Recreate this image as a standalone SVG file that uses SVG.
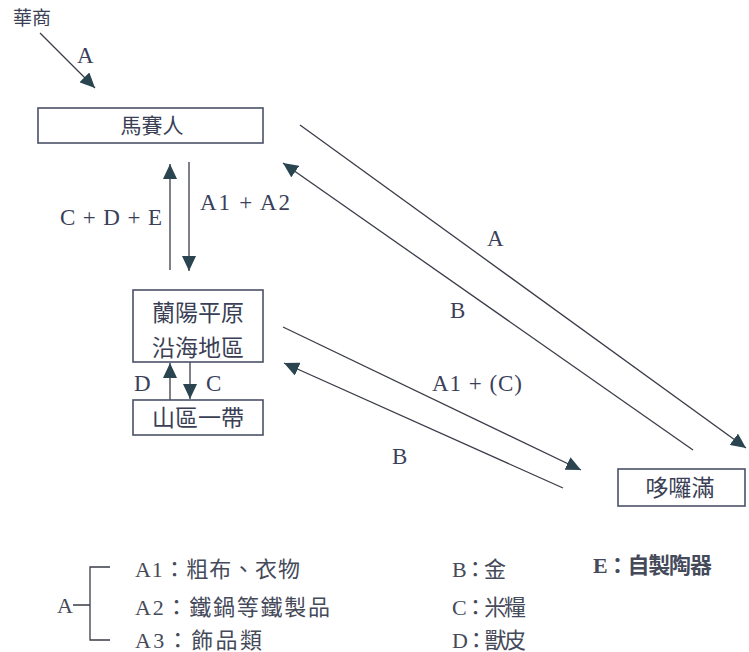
<svg xmlns="http://www.w3.org/2000/svg" width="749" height="652" viewBox="0 0 749 652">
<style>
.box{fill:#fff;stroke:#4a5068;stroke-width:1.6}
.ln{stroke:#3a3d48;stroke-width:1.3;fill:none}
.cjk{font-family:"Noto Sans CJK TC","Noto Sans CJK SC",sans-serif;fill:#3a3f55}
.lat{font-family:"Liberation Serif","Noto Sans CJK TC",serif;fill:#3a3f5a;font-size:23px}
.leg{font-family:"Liberation Serif","Noto Sans CJK TC",serif;fill:#454a5a;font-size:22px}
</style>
<defs>
<marker id="ah" markerUnits="userSpaceOnUse" markerWidth="16" markerHeight="14" refX="15" refY="7" orient="auto">
<path d="M0,0 L15,7 L0,14 z" fill="#2a4550"/>
</marker>
</defs>
<rect width="749" height="652" fill="#fff"/>
<g id="connectors">
<line class="ln" x1="40" y1="33" x2="95" y2="88" marker-end="url(#ah)"/>
<line class="ln" x1="170" y1="270" x2="170" y2="164" marker-end="url(#ah)"/>
<line class="ln" x1="189" y1="162" x2="189" y2="271" marker-end="url(#ah)"/>
<line class="ln" x1="170" y1="400" x2="170" y2="363" marker-end="url(#ah)"/>
<line class="ln" x1="190" y1="362" x2="190" y2="399" marker-end="url(#ah)"/>
<line class="ln" x1="300" y1="125" x2="746" y2="448" marker-end="url(#ah)"/>
<line class="ln" x1="693" y1="450" x2="283" y2="163" marker-end="url(#ah)"/>
<line class="ln" x1="283" y1="327" x2="581" y2="470" marker-end="url(#ah)"/>
<line class="ln" x1="563" y1="488" x2="284" y2="363" marker-end="url(#ah)"/>
<text class="lat" x="77" y="63">A</text>
<text class="lat" x="60" y="225" textLength="102" lengthAdjust="spacing">C + D + E</text>
<text class="lat" x="200" y="210" textLength="90" lengthAdjust="spacing">A1 + A2</text>
<text class="lat" x="134" y="391">D</text>
<text class="lat" x="206" y="391">C</text>
<text class="lat" x="487" y="246">A</text>
<text class="lat" x="450" y="318">B</text>
<text class="lat" x="432" y="391" textLength="90" lengthAdjust="spacing">A1 + (C)</text>
<text class="lat" x="392" y="464">B</text>
</g>
<g id="n-huashang">
<text class="cjk" x="13" y="25" font-size="19">華商</text>
</g>
<g id="n-masai">
<rect class="box" x="38" y="108" width="225" height="35"/>
<text class="cjk" x="152" y="133" font-size="21" text-anchor="middle">馬賽人</text>
</g>
<g id="n-lanyang">
<rect class="box" x="133" y="290" width="130" height="72"/>
<text class="cjk" x="198" y="321" font-size="23" text-anchor="middle">蘭陽平原</text>
<text class="cjk" x="198" y="356" font-size="23" text-anchor="middle">沿海地區</text>
</g>
<g id="n-shanqu">
<rect class="box" x="133" y="400" width="130" height="35"/>
<text class="cjk" x="198" y="426" font-size="23" text-anchor="middle">山區一帶</text>
</g>
<g id="n-duoluoman">
<rect class="box" x="618" y="469" width="127" height="37"/>
<text class="cjk" x="680" y="496" font-size="23" text-anchor="middle">哆囉滿</text>
</g>
<g id="legend">
<text class="leg" x="57" y="613">A</text>
<path class="ln" d="M73,605 H90 M110,567 H90 V640 H110" stroke-width="1.6"/>
<text class="leg" x="135" y="577" textLength="165" lengthAdjust="spacing">A1：粗布、衣物</text>
<text class="leg" x="135" y="615" textLength="195" lengthAdjust="spacing">A2：鐵鍋等鐵製品</text>
<text class="leg" x="135" y="648" textLength="127" lengthAdjust="spacing">A3：飾品類</text>
<text class="leg" x="452" y="577" textLength="54" lengthAdjust="spacing">B：金</text>
<text class="leg" x="452" y="615" textLength="74" lengthAdjust="spacing">C：米糧</text>
<text class="leg" x="452" y="648" textLength="74" lengthAdjust="spacing">D：獸皮</text>
<text class="leg" x="593" y="573" font-size="20" font-weight="bold" fill="#2a2d38" textLength="119" lengthAdjust="spacing">E：自製陶器</text>
</g>
</svg>
